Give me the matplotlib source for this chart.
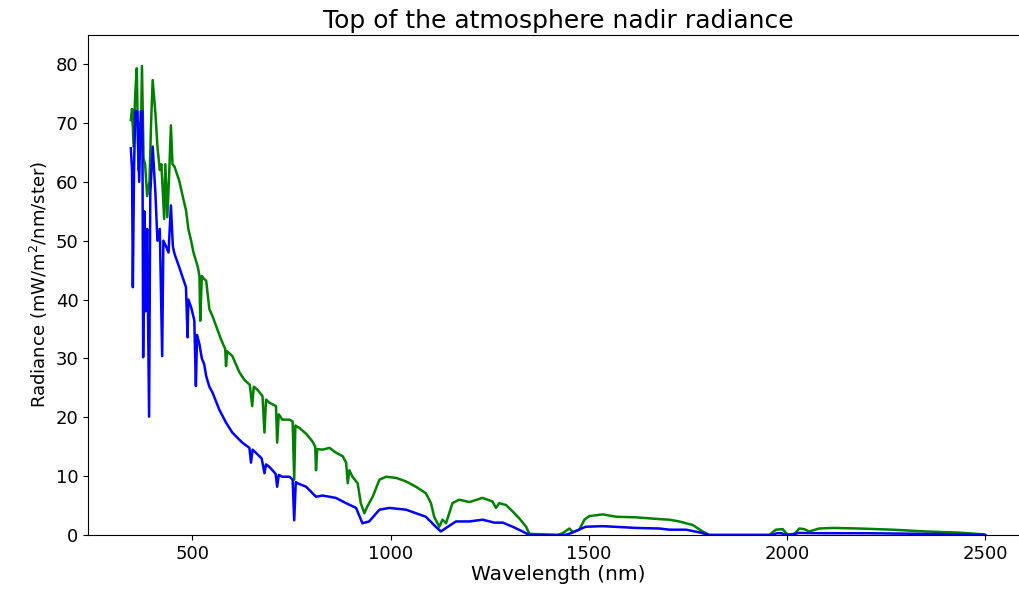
import matplotlib
matplotlib.use("Agg")
import matplotlib.pyplot as plt

# Wavelength (nm) and radiance (mW/m2/nm/ster)
wl_green = [345, 348, 352, 356, 360, 364, 367, 370, 373, 377, 381, 386, 392, 396,
            400, 404, 407, 412, 418, 422, 429, 432, 437, 442, 446, 450, 455, 467,
            476, 484, 490, 497, 503, 509, 514, 518, 520, 524, 530, 535, 543, 552,
            560, 572, 583, 585, 588, 601, 619, 631, 645, 651, 655, 664, 677, 682,
            686, 694, 711, 714, 718, 727, 736, 745, 753, 757, 760, 764, 770, 787,
            803, 810, 812, 815, 829, 846, 862, 879, 888, 892, 896, 904, 917, 925,
            934, 941, 955, 972, 989, 1014, 1039, 1064, 1089, 1102, 1110, 1123, 1131,
            1140, 1148, 1156, 1173, 1199, 1232, 1257, 1266, 1274, 1291, 1308, 1325,
            1342, 1350, 1421, 1434, 1451, 1460, 1476, 1489, 1501, 1535, 1569, 1619,
            1678, 1703, 1728, 1762, 1787, 1804, 1955, 1972, 1989, 2001, 2018, 2031,
            2043, 2056, 2081, 2115, 2182, 2266, 2350, 2434, 2497, 2500]
rad_green = [70.5, 72.4, 66.0, 75.0, 79.3, 62.0, 70.0, 66.0, 79.7, 64.0, 63.0, 57.6, 60.0, 70.0,
             77.3, 74.0, 71.6, 66.0, 62.0, 63.0, 53.7, 63.0, 54.0, 62.0, 69.6, 63.0, 62.6, 60.2,
             57.5, 55.2, 52.0, 50.0, 48.0, 46.6, 45.5, 44.0, 36.4, 44.0, 43.5, 43.2, 38.4, 37.0,
             35.5, 33.3, 31.6, 28.7, 31.2, 30.4, 27.6, 26.4, 25.5, 21.9, 25.2, 24.7, 23.6, 17.4,
             23.0, 22.5, 21.9, 15.7, 20.5, 19.6, 19.6, 19.6, 19.3, 9.4, 18.6, 18.4, 18.2, 17.2,
             15.9, 15.0, 11.0, 14.6, 14.5, 14.8, 14.0, 13.4, 12.3, 8.8, 11.0, 9.9, 8.8, 5.4,
             3.7, 4.8, 6.5, 9.4, 9.9, 9.7, 9.1, 8.2, 7.1, 5.4, 3.1, 1.4, 2.6,
             2.0, 3.7, 5.4, 6.0, 5.6, 6.3, 5.7, 4.6, 5.4, 5.1, 4.0, 2.8,
             1.4, 0.2, 0.0, 0.3, 1.1, 0.5, 0.9, 2.6, 3.2, 3.5, 3.1, 3.0,
             2.7, 2.6, 2.3, 1.7, 0.6, 0.0, 0.0, 0.9, 1.0, 0.1, 0.1, 1.1,
             1.0, 0.6, 1.1, 1.2, 1.1, 0.9, 0.6, 0.4, 0.1, 0.0]

wl_blue = [345, 348, 350, 353, 356, 361, 366, 370, 374, 376, 379, 382, 386, 391, 394,
           400, 407, 412, 418, 424, 427, 434, 440, 446, 451, 455, 467, 484, 488, 490,
           497, 505, 509, 512, 518, 524, 530, 535, 543, 551, 568, 585, 601, 626, 644,
           648, 652, 660, 675, 682, 686, 694, 710, 714, 718, 727, 745, 753, 757, 761,
           765, 787, 812, 829, 862, 888, 913, 929, 946, 972, 997, 1039, 1089, 1114,
           1127, 1140, 1165, 1199, 1232, 1262, 1283, 1308, 1333, 1350, 1440, 1455,
           1492, 1535, 1619, 1678, 1703, 1745, 1779, 1804, 1960, 1975, 1985, 2001,
           2031, 2073, 2200, 2400, 2500]
rad_blue = [65.7, 62.0, 42.1, 62.0, 72.0, 72.0, 60.0, 72.0, 72.0, 30.2, 55.0, 38.0, 52.0, 20.1, 58.0,
            66.0, 58.0, 50.0, 52.0, 30.4, 50.0, 49.0, 48.0, 56.0, 49.0, 47.8, 45.5, 42.1, 33.6, 40.0,
            38.7, 36.5, 25.3, 34.0, 32.4, 30.0, 29.0, 27.0, 25.2, 24.2, 21.3, 19.1, 17.4, 15.7, 14.8,
            12.3, 14.5, 14.0, 13.0, 10.5, 12.0, 11.6, 10.4, 8.2, 10.2, 9.9, 9.9, 9.4, 2.5, 9.0,
            8.8, 8.2, 6.5, 6.7, 6.3, 5.4, 4.6, 2.0, 2.3, 4.3, 4.6, 4.3, 3.1, 1.4,
            0.6, 1.2, 2.3, 2.3, 2.6, 2.1, 2.1, 1.4, 0.6, 0.0, 0.0, 0.3,
            1.4, 1.5, 1.2, 1.1, 0.9, 0.9, 0.45, 0.0, 0.0, 0.3, 0.3, 0.0,
            0.35, 0.3, 0.3, 0.15, 0.0]

fig = plt.figure(figsize=(10.19, 5.92), dpi=100)
ax = fig.add_axes([0.0864, 0.0963, 0.9225, 0.845])

ax.plot(wl_green, rad_green, color="g", linewidth=1.8)
ax.plot(wl_blue, rad_blue, color="b", linewidth=1.8)

ax.set_xlim(237, 2608)
ax.set_ylim(0, 85)
ax.set_xticks([500, 1000, 1500, 2000, 2500])
ax.set_yticks([0, 10, 20, 30, 40, 50, 60, 70, 80])
ax.tick_params(labelsize=13)

ax.set_title("Top of the atmosphere nadir radiance", fontsize=18, pad=5)
ax.set_xlabel("Wavelength (nm)", fontsize=14.5, labelpad=2)
ax.set_ylabel("Radiance (mW/m$^2$/nm/ster)", fontsize=13)

fig.savefig("out.png", dpi=100)
